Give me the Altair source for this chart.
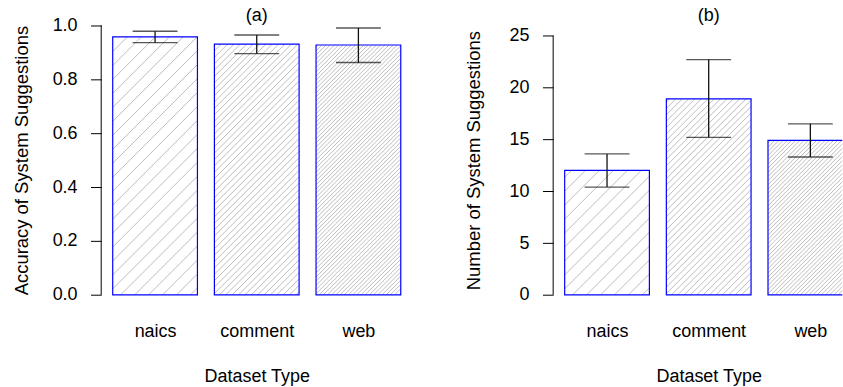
import altair as alt
import pandas as pd
import numpy as np

# ---------------- data ----------------
categories = ["naics", "comment", "web"]

acc_mean = [0.957, 0.930, 0.927]
acc_lo = [0.936, 0.895, 0.862]
acc_hi = [0.978, 0.964, 0.990]

num_mean = [12.0, 18.9, 14.9]
num_lo = [10.4, 15.2, 13.3]
num_hi = [13.6, 22.7, 16.5]

acc_ticks = [0.0, 0.2, 0.4, 0.6, 0.8, 1.0]
num_ticks = [0, 5, 10, 15, 20, 25]
acc_ylim = [0, 1.0]
num_ylim = [0, 26]

# ---------------- styling / layout ----------------
FONT = "Liberation Sans"
FS = 18
VIEW_W = 312
VIEW_H = 292
HATCH_COLOR = "#bdbdbd"
HATCH_SPACING = [14, 6.4, 4.2]   # px between hatch lines (horizontal)
BAR_W, SPACE = 1.0, 0.2


def panel(means, lo, hi, ticks, ylim, ylab, ttl, fmt, view_w, title_dx):
    n = len(categories)
    x0 = [SPACE + i * (BAR_W + SPACE) for i in range(n)]
    x1 = [v + BAR_W for v in x0]
    xc = [v + BAR_W / 2 for v in x0]
    xr = x1[-1] - x0[0]
    xmin = x0[0] - 0.04 * xr
    xmax_full = x1[-1] + 0.04 * xr
    pxu = VIEW_W / (xmax_full - xmin)
    xdom = [xmin, xmin + view_w / pxu]
    yr = ylim[1] - ylim[0]
    ydom = [ylim[0] - 0.04 * yr, ylim[1] + 0.04 * yr]
    pyu = VIEW_H / (ydom[1] - ydom[0])

    xs = alt.Scale(domain=xdom, nice=False, zero=False)
    ys = alt.Scale(domain=ydom, nice=False, zero=False)

    df = pd.DataFrame({
        "cat": categories, "x0": x0, "x1": x1, "xc": xc,
        "base": [ylim[0]] * n, "mean": means, "lo": lo, "hi": hi,
    })

    # hatch segments (45 degree lines in screen space) inside each bar
    rows = []
    for i in range(n):
        W = BAR_W * pxu
        H = (means[i] - ylim[0]) * pyu
        s = HATCH_SPACING[i]
        for c in np.arange(-W + s / 2, H, s):
            xa = max(0.0, -c)
            xb = min(W, H - c)
            if xb > xa:
                rows.append({
                    "hx": x0[i] + xa / pxu, "hx2": x0[i] + xb / pxu,
                    "hy": ylim[0] + (xa + c) / pyu, "hy2": ylim[0] + (xb + c) / pyu,
                })
    hdf = pd.DataFrame(rows)

    # label expression for x axis
    expr = "'" + categories[-1] + "'"
    for i in range(n - 2, -1, -1):
        thr = (xc[i] + xc[i + 1]) / 2
        expr = f"datum.value < {thr} ? '{categories[i]}' : ({expr})"

    xaxis = alt.Axis(values=xc, labelExpr=expr, domain=False, ticks=False, tickSize=0,
                     grid=False, labelFont=FONT, labelFontSize=FS, labelColor="black",
                     labelPadding=31, labelBaseline="alphabetic", labelOverlap=False,
                     labelFlush=False, title="Dataset Type", titleFont=FONT,
                     titleFontSize=FS, titleFontWeight="normal", titleColor="black",
                     titleX=VIEW_W / 2, titleY=76, titleBaseline="alphabetic",
                     titleAlign="center")
    yaxis = alt.Axis(values=ticks, format=fmt, domain=False, grid=False,
                     tickSize=10.7, tickColor="black", tickWidth=1,
                     labelPadding=13.5, labelFont=FONT, labelFontSize=FS,
                     labelColor="black", title=ylab, titleFont=FONT, titleFontSize=18.5,
                     titleFontWeight="normal", titleColor="black", titleX=-74,
                     titleY=VIEW_H / 2, titleBaseline="alphabetic", titleAlign="center",
                     titleAngle=270)

    X = lambda f: alt.X(f, scale=xs, axis=xaxis)
    Y = lambda f: alt.Y(f, scale=ys, axis=yaxis)

    hatch = alt.Chart(hdf).mark_rule(color=HATCH_COLOR, strokeWidth=1, clip=True).encode(
        x=X("hx:Q"), x2="hx2", y=Y("hy:Q"), y2="hy2")

    bars = alt.Chart(df).mark_rect(fill="white", fillOpacity=0, stroke="#0000ff",
                                   strokeWidth=1.2, clip=True).encode(
        x=X("x0:Q"), x2="x1", y=Y("base:Q"), y2="mean")

    err = alt.Chart(df).mark_rule(color="#111111", strokeWidth=1.3, clip=True).encode(
        x=X("xc:Q"), y=Y("lo:Q"), y2="hi")
    cap_lo = alt.Chart(df).mark_tick(color="#111111", orient="horizontal", size=45,
                                     thickness=1.3, clip=True).encode(
        x=X("xc:Q"), y=Y("lo:Q"))
    cap_hi = alt.Chart(df).mark_tick(color="#111111", orient="horizontal", size=45,
                                     thickness=1.3, clip=True).encode(
        x=X("xc:Q"), y=Y("hi:Q"))

    adf = pd.DataFrame({"lo": [min(ticks)], "hi": [max(ticks)]})
    axis_line = alt.Chart(adf).mark_rule(color="black", strokeWidth=1).encode(
        x=alt.value(0), y=Y("lo:Q"), y2="hi")

    return alt.layer(hatch, bars, err, cap_lo, cap_hi, axis_line).properties(
        width=view_w, height=VIEW_H,
        title=alt.TitleParams(ttl, font=FONT, fontSize=18, fontWeight="normal",
                              color="black", anchor="middle", baseline="alphabetic",
                              offset=-6.5, dy=17.5, dx=title_dx))


pa = panel(acc_mean, acc_lo, acc_hi, acc_ticks, acc_ylim,
           "Accuracy of System Suggestions", "(a)", ".1f", VIEW_W, 0)
pb_w = 290
pb = panel(num_mean, num_lo, num_hi, num_ticks, num_ylim,
           "Number of System Suggestions", "(b)", "d", pb_w, (VIEW_W - pb_w) / 2)

chart = alt.hconcat(pa, pb, spacing=141.3, bounds="flush").properties(
    padding={"left": 12.5, "top": 6, "right": 0, "bottom": 0},
    autosize=alt.AutoSizeParams(type="pad"),
    background="white",
).configure_view(stroke=None)

chart.save("out.html", embed_options={"renderer": "svg", "actions": False})
